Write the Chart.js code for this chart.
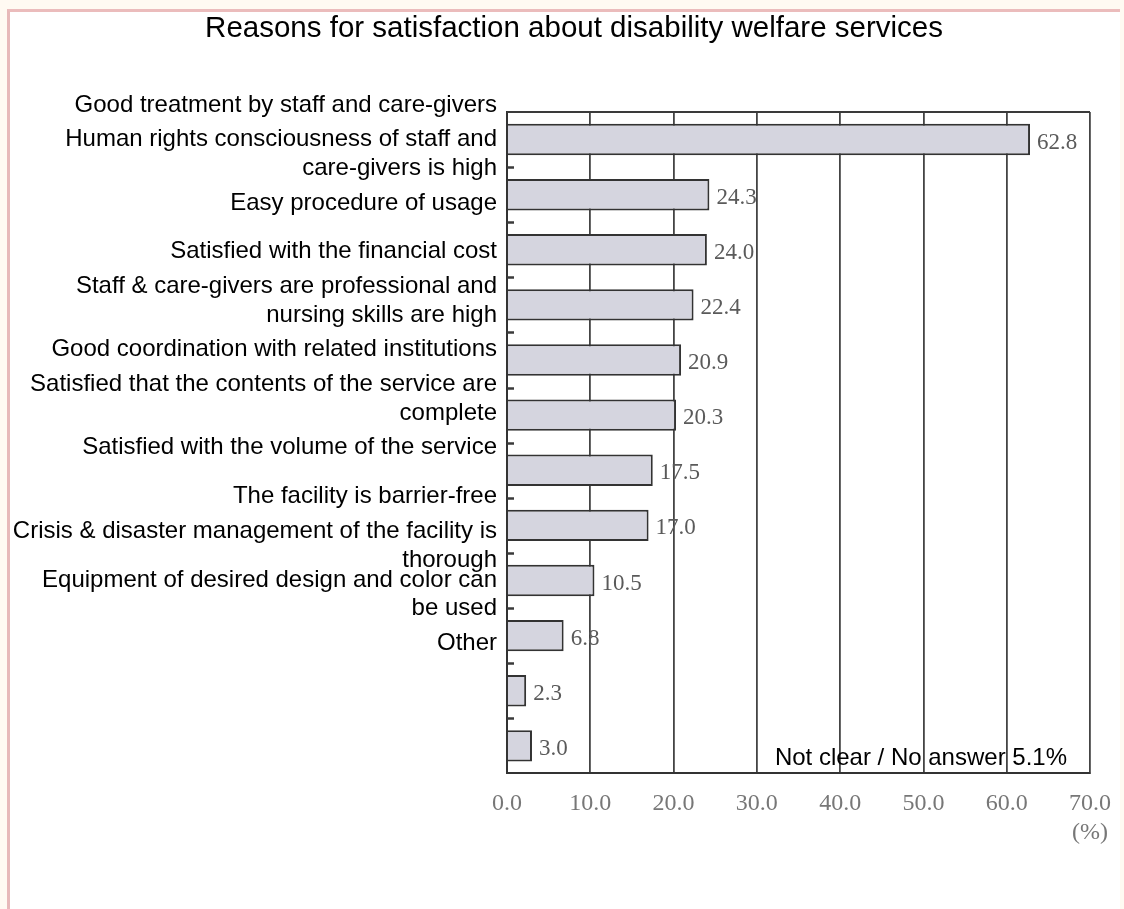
<!DOCTYPE html>
<html>
<head>
<meta charset="utf-8">
<title>Reasons for satisfaction about disability welfare services</title>
<script src="https://cdn.jsdelivr.net/npm/chart.js@4.4.1/dist/chart.umd.min.js"></script>
<style>
	html, body { margin: 0; padding: 0; background: #fffaf2; overflow: hidden; }
	#frame {
		position: absolute; left: 7px; top: 9px; width: 1110px; height: 900px;
		background: #ffffff;
		border-top: 3px solid #ebbcbc;
		border-left: 3px solid #e7b9b9;
	}
	#wrap { position: absolute; left: 0; top: 0; width: 1124px; height: 909px; }
</style>
</head>
<body>
<div id="frame"></div>
<div id="wrap"><canvas id="mycanvas"></canvas></div>
<script>
var chartTitle = 'Reasons for satisfaction about disability welfare services';

var categories = [
	'Good treatment by staff and care-givers',
	['Human rights consciousness of staff and', 'care-givers is high'],
	'Easy procedure of usage',
	'Satisfied with the financial cost',
	['Staff & care-givers are professional and', 'nursing skills are high'],
	'Good coordination with related institutions',
	['Satisfied that the contents of the service are', 'complete'],
	'Satisfied with the volume of the service',
	'The facility is barrier-free',
	['Crisis & disaster management of the facility is', 'thorough'],
	['Equipment of desired design and color can', 'be used'],
	'Other'
];

var percentages = [62.8, 24.3, 24.0, 22.4, 20.9, 20.3, 17.5, 17.0, 10.5, 6.8, 2.3, 3.0];

var xMin = 0;
var xMax = 70;
var xStep = 10;
var unitLabel = '(%)';
var noAnswerNote = 'Not clear / No answer 5.1%';

var sansFont = '"Liberation Sans", Arial, sans-serif';
var serifFont = '"Liberation Serif", "Times New Roman", serif';

// the labels in the source sit a little off the bars, spaced tighter than the bands
var decorPlugin = {
	id: 'decor',
	afterDatasetsDraw: function(chart) {
		var ctx = chart.ctx;
		var area = chart.chartArea;
		var y = chart.scales.y;
		var n = categories.length;
		var band = (y.bottom - y.top) / n;

		ctx.save();

		// top border of the plot
		ctx.strokeStyle = '#3a3a3a';
		ctx.lineWidth = 2;
		ctx.beginPath();
		ctx.moveTo(area.left, area.top);
		ctx.lineTo(area.right, area.top);
		ctx.stroke();

		// small inner ticks between the bars
		ctx.lineWidth = 2.5;
		for (var i = 1; i < n; i++) {
			var ty = Math.round(y.top + band * i) + 0.5;
			ctx.beginPath();
			ctx.moveTo(area.left, ty);
			ctx.lineTo(area.left + 7, ty);
			ctx.stroke();
		}

		// value labels at the end of each bar
		var meta = chart.getDatasetMeta(0);
		ctx.fillStyle = '#5a5a5a';
		ctx.font = '23px ' + serifFont;
		ctx.textAlign = 'left';
		ctx.textBaseline = 'middle';
		meta.data.forEach(function(bar, i) {
			ctx.fillText(percentages[i].toFixed(1), bar.x + 7, bar.y + 3);
		});

		// category labels
		ctx.fillStyle = '#000000';
		ctx.font = '24px ' + sansFont;
		ctx.textAlign = 'right';
		var lh = 28.8;
		categories.forEach(function(label, i) {
			var lines = Array.isArray(label) ? label : [label];
			var cy = y.top - band * 0.127 + i * band * 0.888;
			var y0 = cy - (lines.length - 1) * lh / 2;
			lines.forEach(function(line, k) {
				ctx.fillText(line, area.left - 10, y0 + k * lh);
			});
		});

		// note in the corner
		ctx.textAlign = 'right';
		ctx.fillText(noAnswerNote, area.right - 23, area.bottom - 15);

		// title
		ctx.textAlign = 'center';
		ctx.font = '29.5px ' + sansFont;
		ctx.fillText(chartTitle, 574, 29);

		ctx.restore();
	}
};

var ctx = document.getElementById('mycanvas');

var chart = new Chart(ctx, {
	type: 'bar',
	data: {
		labels: categories,
		datasets: [
			{
				label: 'Reasons for satisfaction',
				data: percentages,
				backgroundColor: '#d5d5df',
				borderColor: '#333333',
				borderWidth: 2,
				borderSkipped: 'start',
				barPercentage: 0.57,
				categoryPercentage: 1.0
			}
		]
	},
	options: {
		indexAxis: 'y',
		responsive: true,
		maintainAspectRatio: false,
		animation: false,
		layout: {
			padding: { left: 507, right: 34, top: 112, bottom: 46 }
		},
		plugins: {
			legend: { display: false },
			title: { display: false },
			tooltip: { enabled: false }
		},
		scales: {
			x: {
				type: 'linear',
				min: xMin,
				max: xMax,
				afterFit: function(scale) {
					scale.paddingLeft = 0;
					scale.paddingRight = 0;
				},
				ticks: {
					stepSize: xStep,
					padding: 16,
					color: '#777777',
					font: { family: serifFont, size: 24 },
					callback: function(v) {
						if (v === xMax) return [v.toFixed(1), unitLabel];
						return v.toFixed(1);
					}
				},
				grid: {
					color: '#444444',
					lineWidth: 1.8,
					drawTicks: false
				},
				border: { display: true, color: '#333333', width: 2 }
			},
			y: {
				type: 'category',
				ticks: { display: false },
				grid: { display: false, drawTicks: false },
				border: { display: true, color: '#333333', width: 2 }
			}
		}
	},
	plugins: [decorPlugin]
});
</script>
</body>
</html>
